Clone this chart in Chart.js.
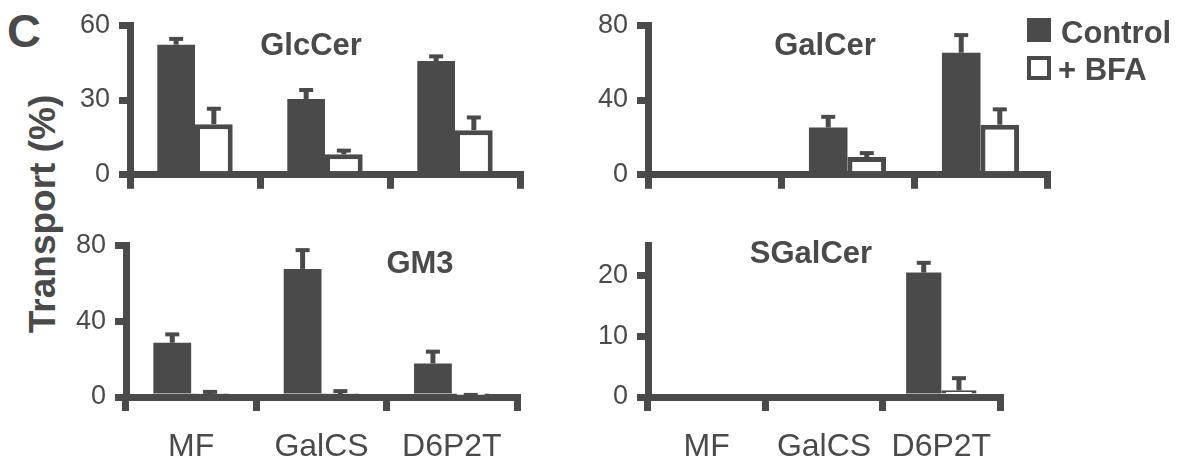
<!DOCTYPE html>
<html>
<head>
<meta charset="utf-8">
<script src="https://cdn.jsdelivr.net/npm/chart.js@4.4.1/dist/chart.umd.min.js"></script>
<style>
  html, body { margin: 0; padding: 0; background: #fff; }
  body { width: 1182px; height: 466px; position: relative; overflow: hidden;
         font-family: "Liberation Sans", Arial, sans-serif; color: #4a4a4a; }
  .box { position: absolute; }
  .txt { position: absolute; white-space: nowrap; line-height: 1; font-weight: bold; }
  .sq { position: absolute; width: 24px; height: 24px; box-sizing: border-box; }
</style>
</head>
<body>
<div class="txt" style="left:7px; top:7px; font-size:47px;">C</div>
<div class="txt" style="left:42px; top:214px; font-size:37px; transform: translate(-50%, -50%) rotate(-90deg);">Transport (%)</div>

<div class="box" style="left:0; top:0; width:530px; height:200px;"><canvas id="glc"></canvas></div>
<div class="box" style="left:560px; top:0; width:497px; height:200px;"><canvas id="gal"></canvas></div>
<div class="box" style="left:0; top:220px; width:527px; height:246px;"><canvas id="gm3"></canvas></div>
<div class="box" style="left:560px; top:220px; width:450px; height:246px;"><canvas id="sgal"></canvas></div>

<div class="txt" style="left:311px; top:29px; font-size:31px; transform: translateX(-50%);">GlcCer</div>
<div class="txt" style="left:825px; top:29px; font-size:31px; transform: translateX(-50%);">GalCer</div>
<div class="txt" style="left:420px; top:247px; font-size:31px; transform: translateX(-50%);">GM3</div>
<div class="txt" style="left:811px; top:237px; font-size:31px; transform: translateX(-50%);">SGalCer</div>

<div class="sq" style="left:1027px; top:18px; background:#4a4a4a;"></div>
<div class="txt" style="left:1061px; top:17px; font-size:31px;">Control</div>
<div class="sq" style="left:1027px; top:56px; border:4px solid #4a4a4a; background:#fff;"></div>
<div class="txt" style="left:1058px; top:54px; font-size:31px;">+ BFA</div>

<script>
// values, transport in %
var categories = [ 'MF', 'GalCS', 'D6P2T' ];

var glcControl    = [ 52.2, 30.4, 45.6 ];
var glcControlErr = [ 2.3, 3.6, 1.9 ];
var glcBfa        = [ 20.3, 8.2, 17.9 ];
var glcBfaErr     = [ 6.2, 1.5, 5.1 ];

var galControl    = [ null, 25.3, 65.3 ];
var galControlErr = [ null, 5.7, 9.4 ];
var galBfa        = [ null, 9.5, 26.8 ];
var galBfaErr     = [ null, 2.1, 8.2 ];

var gm3Control    = [ 28.6, 67.5, 17.7 ];
var gm3ControlErr = [ 4.4, 9.9, 6.2 ];
var gm3Bfa        = [ 1.5, 1.5, 0.6 ];
var gm3BfaErr     = [ 1.2, 1.6, 0.5 ];

var sgalControl    = [ null, null, 20.5 ];
var sgalControlErr = [ null, null, 1.6 ];
var sgalBfa        = [ null, null, 1.1 ];
var sgalBfaErr     = [ null, null, 2.0 ];

var ink = '#4a4a4a';

// upward error bars, one per bar
var errorBars = {
	id: 'errorBars',
	afterDatasetsDraw: function( chart ) {
		var ctx = chart.ctx;
		var y = chart.scales.y;
		chart.data.datasets.forEach( function( ds, i ) {
			chart.getDatasetMeta( i ).data.forEach( function( bar, j ) {
				var v = ds.data[ j ], e = ds.errors[ j ];
				if ( v == null || !e ) return;
				var yTop = y.getPixelForValue( v + e );
				var yBase = y.getPixelForValue( v );
				ctx.save();
				ctx.strokeStyle = ink;
				ctx.lineWidth = 5;
				ctx.beginPath();
				ctx.moveTo( bar.x, yBase );
				ctx.lineTo( bar.x, yTop );
				ctx.stroke();
				ctx.lineWidth = 4;
				ctx.beginPath();
				ctx.moveTo( bar.x - 7, yTop );
				ctx.lineTo( bar.x + 7, yTop );
				ctx.stroke();
				ctx.restore();
			} );
		} );
	}
};

function panel( id, control, controlErr, bfa, bfaErr, opts ) {
	return new Chart( document.getElementById( id ), {
		type: 'bar',
		data: {
			labels: categories,
			datasets: [ {
				label: 'Control',
				data: control,
				errors: controlErr,
				backgroundColor: ink,
				borderWidth: 0,
			}, {
				label: '+ BFA',
				data: bfa,
				errors: bfaErr,
				backgroundColor: '#ffffff',
				borderColor: ink,
				borderWidth: 5,
			} ]
		},
		options: {
			responsive: true,
			maintainAspectRatio: false,
			animation: false,
			events: [],
			layout: { padding: { top: opts.top, right: 10, left: 0, bottom: 0 } },
			datasets: { bar: { categoryPercentage: opts.cat, barPercentage: 1.0 } },
			plugins: { legend: { display: false }, tooltip: { enabled: false } },
			scales: {
				x: {
					grid: { offset: true, drawOnChartArea: false, lineWidth: 7, tickLength: 14, tickWidth: 7, tickColor: ink },
					border: { width: 7, color: ink },
					ticks: {
						display: opts.labels,
						color: ink,
						padding: 17,
						font: { family: '"Liberation Sans", Arial, sans-serif', size: 32 },
					},
					afterFit: function( s ) { s.height = opts.xh; },
				},
				y: {
					min: 0,
					max: opts.max,
					grid: { drawOnChartArea: false, lineWidth: 7, tickLength: 11, tickWidth: 7, tickColor: ink },
					border: { width: 7, color: ink },
					ticks: {
						stepSize: opts.step,
						color: ink,
						padding: 9,
						font: { family: '"Liberation Sans", Arial, sans-serif', size: 27 },
					},
					afterBuildTicks: function( s ) {
						s.ticks = s.ticks.filter( function( t ) { return t.value % opts.step === 0; } );
					},
					afterFit: function( s ) { s.width = opts.yw; },
				}
			}
		},
		plugins: [ errorBars ]
	} );
}

panel( 'glc', glcControl, glcControlErr, glcBfa, glcBfaErr,
	{ top: 22, max: 60, step: 30, yw: 130, xh: 24, cat: 0.58, labels: false } );
panel( 'gal', galControl, galControlErr, galBfa, galBfaErr,
	{ top: 24, max: 80, step: 40, yw: 88, xh: 24, cat: 0.58, labels: false } );
panel( 'gm3', gm3Control, gm3ControlErr, gm3Bfa, gm3BfaErr,
	{ top: 23, max: 80, step: 40, yw: 126, xh: 69, cat: 0.58, labels: true } );
panel( 'sgal', sgalControl, sgalControlErr, sgalBfa, sgalBfaErr,
	{ top: 22, max: 25, step: 10, yw: 88, xh: 69, cat: 0.6, labels: true } );
</script>
</body>
</html>
